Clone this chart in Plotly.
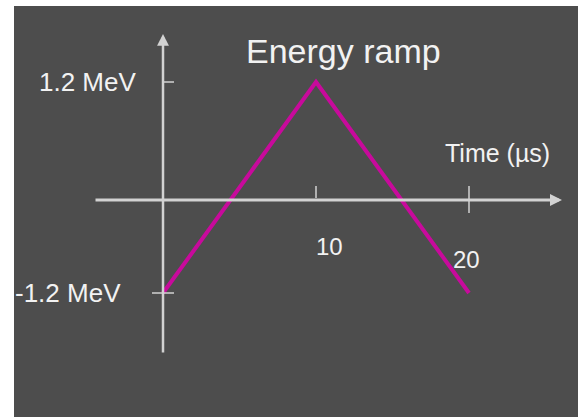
import plotly.graph_objects as go

# ---- data ----
time_us = [0, 10, 20]
energy_mev = [-1.2, 1.2, -1.2]
x_tick_vals = [10, 20]
x_tick_text = ["10", "20"]
y_tick_vals = [1.2, -1.2]
y_tick_text = ["1.2 MeV", "-1.2 MeV"]
title_text = "Energy ramp"
x_title = "Time (\u00b5s)"

# ---- layout geometry (pixels) ----
W, H = 578, 417
ML, MT = 14, 6
PW, PH = W - ML, H - MT
X0_PX, KX = 163, 15.3          # pixel of t=0, px per µs
Y0_PX, KY = 187.5, 211 / 2.4   # pixel of E=0, px per MeV
AXIS_Y_PX = 200

def px_to_x(p):
    return (p - X0_PX) / KX

def py_to_y(p):
    return (Y0_PX - p) / KY

def px_to_paper(p):
    return (p - ML) / PW

def py_to_paper(p):
    return (H - p) / PH

BG = "#4d4d4d"
AX = "#d2d2d2"
TXT = "#f2f2f2"
PINK = "#c80a9c"
FONT = "Liberation Sans, Arial, sans-serif"

fig = go.Figure()
fig.add_trace(go.Scatter(x=time_us, y=energy_mev, mode="lines",
                         line=dict(color=PINK, width=4), hoverinfo="skip",
                         showlegend=False))

shapes = []
annotations = []

# x ticks
tick_spans = {10: (2, 14), 20: (-13, 14)}
for v in x_tick_vals:
    lo, hi = tick_spans[v]
    shapes.append(dict(type="line", xref="x", yref="paper", ysizemode="pixel",
                       yanchor=py_to_paper(AXIS_Y_PX), x0=v, x1=v, y0=lo, y1=hi,
                       line=dict(color=AX, width=1.5)))
# y ticks
ytick_spans = {1.2: (0, 11), -1.2: (-11, 11)}
for v in y_tick_vals:
    lo, hi = ytick_spans[v]
    shapes.append(dict(type="line", yref="y", xref="x", xsizemode="pixel",
                       xanchor=0, y0=v, y1=v, x0=lo, x1=hi,
                       line=dict(color=AX, width=1.5)))

# axes arrows
annotations.append(dict(xref="paper", yref="paper",
                        x=px_to_paper(562), y=py_to_paper(AXIS_Y_PX),
                        axref="pixel", ayref="pixel", ax=-(562 - 94), ay=0,
                        showarrow=True, arrowhead=2, arrowsize=0.8,
                        arrowwidth=3, arrowcolor=AX, text=""))
annotations.append(dict(xref="x", yref="paper", x=0, y=py_to_paper(34),
                        axref="pixel", ayref="pixel", ax=0, ay=354 - 34,
                        showarrow=True, arrowhead=2, arrowsize=0.95,
                        arrowwidth=2.5, arrowcolor=AX, text=""))

# x tick labels
x_label_shift = {10: (13, -46), 20: (-3, -59)}
for v, t in zip(x_tick_vals, x_tick_text):
    dx, dy = x_label_shift[v]
    annotations.append(dict(xref="x", yref="paper", x=v,
                            y=py_to_paper(AXIS_Y_PX), text=t,
                            showarrow=False, xshift=dx, yshift=dy,
                            xanchor="center", yanchor="middle",
                            font=dict(family=FONT, size=24, color=TXT)))
# y tick labels
y_label_shift = {1.2: -25, -1.2: -40}
for v, t in zip(y_tick_vals, y_tick_text):
    annotations.append(dict(xref="x", yref="y", x=0, y=v, text=t,
                            showarrow=False, xanchor="right", yanchor="middle",
                            xshift=y_label_shift[v],
                            font=dict(family=FONT, size=26, color=TXT)))

# titles
annotations.append(dict(xref="paper", yref="paper", x=px_to_paper(343.5),
                        y=py_to_paper(51), text=title_text, showarrow=False,
                        xanchor="center", yanchor="middle",
                        font=dict(family=FONT, size=34, color=TXT)))
annotations.append(dict(xref="paper", yref="paper", x=px_to_paper(497),
                        y=py_to_paper(153), text=x_title, showarrow=False,
                        xanchor="center", yanchor="middle",
                        font=dict(family=FONT, size=25, color=TXT)))

fig.update_layout(
    width=W, height=H,
    margin=dict(l=ML, r=0, t=MT, b=0),
    paper_bgcolor="white", plot_bgcolor=BG,
    xaxis=dict(visible=False, range=[px_to_x(ML), px_to_x(W)], fixedrange=True),
    yaxis=dict(visible=False, range=[py_to_y(H), py_to_y(MT)], fixedrange=True),
    shapes=shapes, annotations=annotations,
)

fig.write_html("out.html", config={"displayModeBar": False},
               post_script="document.body.style.margin='0';"
                           "document.body.style.overflow='hidden';")
